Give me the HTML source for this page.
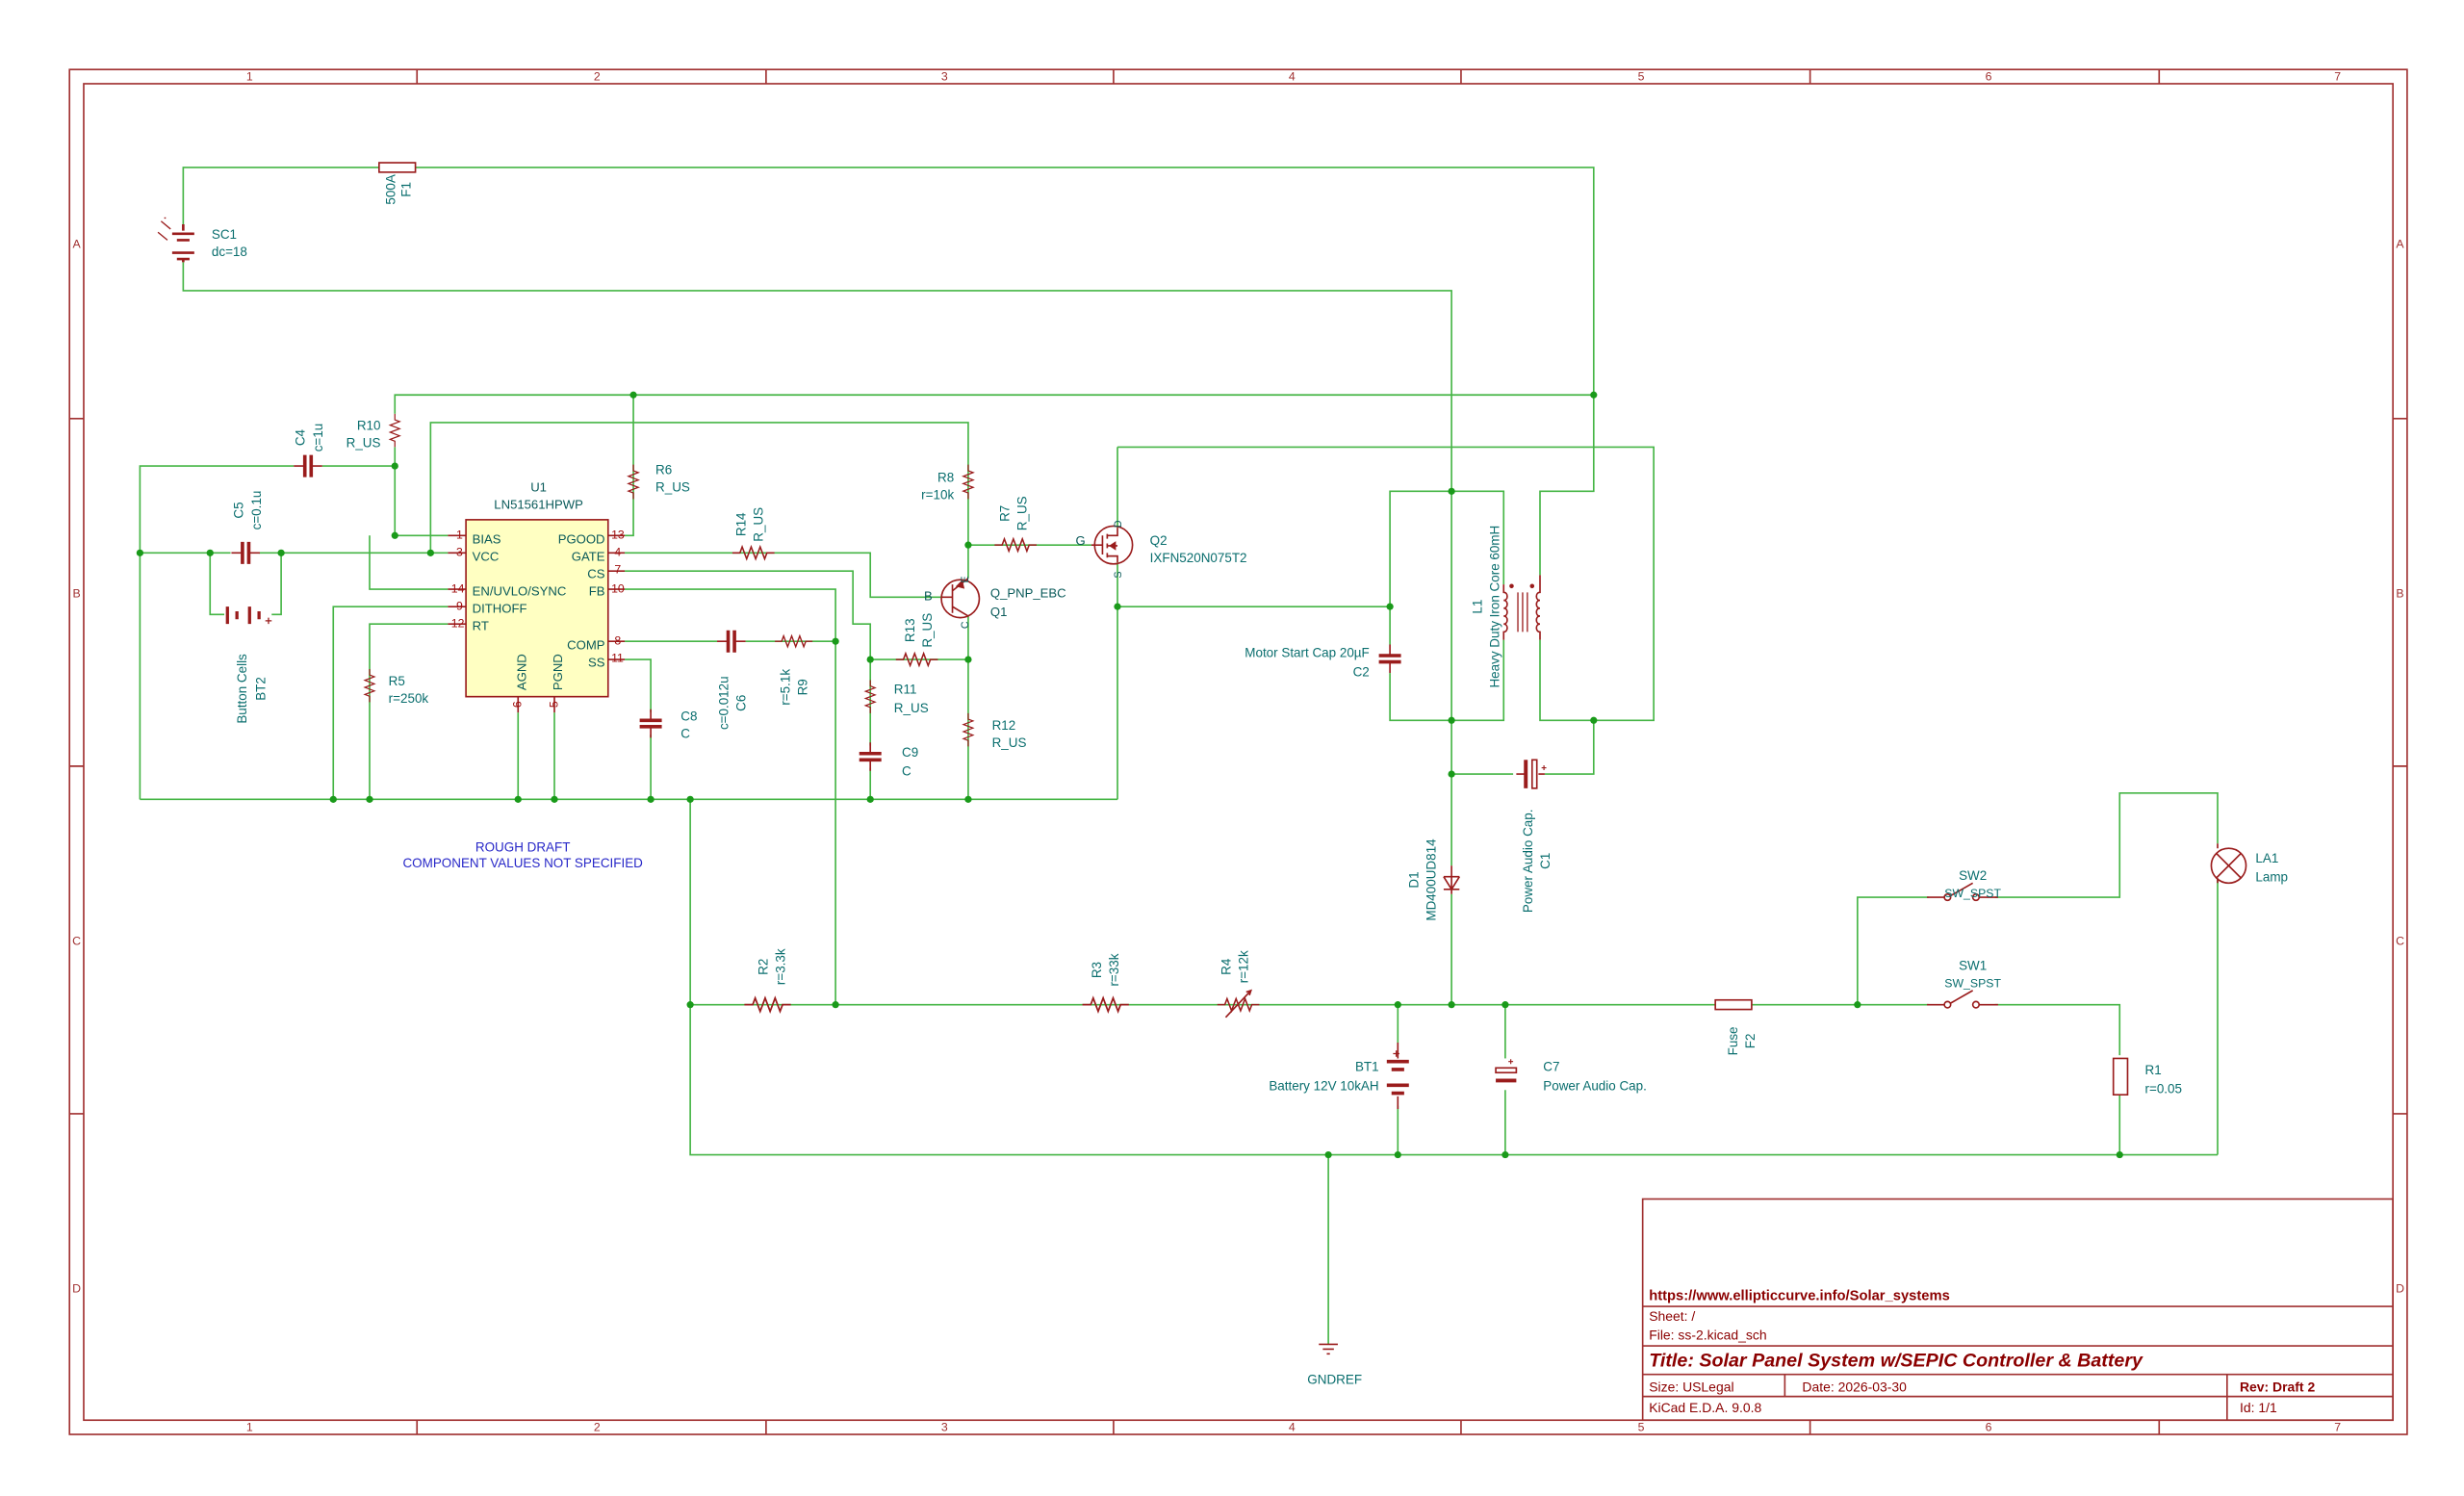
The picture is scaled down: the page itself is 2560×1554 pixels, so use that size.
<!DOCTYPE html>
<html><head><meta charset="utf-8"><style>
html,body{margin:0;padding:0;background:#fff;}
svg{display:block;}
text{font-family:"Liberation Sans",sans-serif;font-size:8.2px;fill:#0a6e6e;}
.p{fill:#a01010;font-size:7.5px;}
.n{fill:#0a5a5a;font-size:8px;}
.tb{fill:#8b0000;}
.fr{fill:#a03030;font-size:7.5px;}
</style></head><body>
<svg width="2560" height="1554" viewBox="0 0 1560 947" preserveAspectRatio="none" xmlns="http://www.w3.org/2000/svg">
<defs>
<path id="rh" d="M-14,0H-9L-7.5,-4L-4.5,4L-1.5,-4L1.5,4L4.5,-4L7.5,4L9,0H14" fill="none"/>
<g id="ch"><path d="M-9,0H-2M2,0H9" stroke-width="1"/><path d="M-2,-7V7M2,-7V7" stroke-width="2.2"/></g>
<g id="cv"><path d="M0,-9V-2M0,2V9" stroke-width="1"/><path d="M-7,-2H7M-7,2H7" stroke-width="2.2"/></g>
</defs>
<rect width="1560" height="947" fill="#fff"/>
<!-- frame -->
<g stroke="#a03030" fill="none" stroke-width="1">
<rect x="44" y="44" width="1480" height="864"/>
<rect x="53" y="53" width="1462" height="846"/>
<path d="M264,44V53M485,44V53M705,44V53M925,44V53M1146,44V53M1367,44V53M264,899V908M485,899V908M705,899V908M925,899V908M1146,899V908M1367,899V908M44,265H53M44,485H53M44,705H53M1515,265H1524M1515,485H1524M1515,705H1524"/>
<rect x="1040" y="759" width="475" height="140"/>
<path d="M1040,827H1515M1040,852H1515M1040,870H1515M1040,884H1515M1130,870V884M1410,870V899"/>
</g>
<g class="fr" text-anchor="middle">
<text class="fr" x="158" y="51">1</text><text class="fr" x="378" y="51">2</text><text class="fr" x="598" y="51">3</text><text class="fr" x="818" y="51">4</text><text class="fr" x="1039" y="51">5</text><text class="fr" x="1259" y="51">6</text><text class="fr" x="1480" y="51">7</text>
<text class="fr" x="158" y="906">1</text><text class="fr" x="378" y="906">2</text><text class="fr" x="598" y="906">3</text><text class="fr" x="818" y="906">4</text><text class="fr" x="1039" y="906">5</text><text class="fr" x="1259" y="906">6</text><text class="fr" x="1480" y="906">7</text>
<text class="fr" x="48.5" y="157">A</text><text class="fr" x="48.5" y="378">B</text><text class="fr" x="48.5" y="598">C</text><text class="fr" x="48.5" y="818">D</text>
<text class="fr" x="1519.5" y="157">A</text><text class="fr" x="1519.5" y="378">B</text><text class="fr" x="1519.5" y="598">C</text><text class="fr" x="1519.5" y="818">D</text>
</g>
<!-- wires -->
<g stroke="#45b545" stroke-width="1" fill="none">
<path d="M116,142V106H1009V311H975V364"/>
<path d="M116,166V184H919V636"/>
<path d="M880,384V311H952V370"/>
<path d="M880,384V456H952V405"/>
<path d="M975,405V456H1047V283H707.5"/>
<path d="M919,490H1009V456"/>
<path d="M250,262V250H1009"/>
<path d="M272.6,350V267.5H613V345"/>
<path d="M250,283V339H283.6"/>
<path d="M88.6,506V295H250"/>
<path d="M234,339V373H283.6"/>
<path d="M88.6,350H283.6"/>
<path d="M133,350V389H178V350"/>
<path d="M283.6,384H211V506"/>
<path d="M283.6,395H234V506"/>
<path d="M395.5,339H401V250"/>
<path d="M395.5,350H551V378H596"/>
<path d="M395.5,361.5H540V395H551V506"/>
<path d="M395.5,373H529V636"/>
<path d="M395.5,406H529"/>
<path d="M395.5,417.5H412V506"/>
<path d="M551,417.5H613"/>
<path d="M613,345V366M613,390V506"/>
<path d="M613,345H691"/>
<path d="M707.5,356V506M707.5,334V283"/>
<path d="M707.5,384H880"/>
<path d="M88.6,506H707.5"/>
<path d="M328,451V506M351,451V506"/>
<path d="M437,506V731H1404"/>
<path d="M437,636H1342V668M1342,691V731"/>
<path d="M1176,636V568H1342V502H1404V534M1404,556V731"/>
<path d="M885,636V731M953,636V731"/>
<path d="M841,731V851"/>
</g>
<!-- junctions -->
<g fill="#1a9a1a">
<circle cx="401" cy="250" r="2.2"/><circle cx="1009" cy="250" r="2.2"/><circle cx="250" cy="295" r="2.2"/><circle cx="250" cy="339" r="2.2"/><circle cx="272.6" cy="350" r="2.2"/><circle cx="133" cy="350" r="2.2"/><circle cx="178" cy="350" r="2.2"/><circle cx="88.6" cy="350" r="2.2"/><circle cx="613" cy="345" r="2.2"/><circle cx="919" cy="311" r="2.2"/><circle cx="880" cy="384" r="2.2"/><circle cx="919" cy="456" r="2.2"/><circle cx="1009" cy="456" r="2.2"/><circle cx="919" cy="490" r="2.2"/><circle cx="529" cy="406" r="2.2"/><circle cx="551" cy="417.5" r="2.2"/><circle cx="613" cy="417.5" r="2.2"/><circle cx="707.5" cy="384" r="2.2"/><circle cx="211" cy="506" r="2.2"/><circle cx="234" cy="506" r="2.2"/><circle cx="328" cy="506" r="2.2"/><circle cx="351" cy="506" r="2.2"/><circle cx="412" cy="506" r="2.2"/><circle cx="437" cy="506" r="2.2"/><circle cx="551" cy="506" r="2.2"/><circle cx="613" cy="506" r="2.2"/><circle cx="437" cy="636" r="2.2"/><circle cx="529" cy="636" r="2.2"/><circle cx="885" cy="636" r="2.2"/><circle cx="919" cy="636" r="2.2"/><circle cx="953" cy="636" r="2.2"/><circle cx="1176" cy="636" r="2.2"/><circle cx="841" cy="731" r="2.2"/><circle cx="885" cy="731" r="2.2"/><circle cx="953" cy="731" r="2.2"/><circle cx="1342" cy="731" r="2.2"/>
</g>
<!-- components -->
<g stroke="#9a1c1c" fill="none" stroke-width="1">
<!-- IC -->
<rect x="295" y="329" width="90" height="112" fill="#ffffc2"/>
<path d="M283.6,339H295M283.6,350H295M283.6,373H295M283.6,384H295M283.6,395H295M385,339H395.5M385,350H395.5M385,361.5H395.5M385,373H395.5M385,406H395.5M385,417.5H395.5M328,441V451M351,441V451"/>
<!-- SC1 -->
<path d="M116,142V146M109,148H123M112,152H120M109,160H123M112,164H120M116,164V166" stroke-width="1.6"/>
<path d="M102,140l6,5M104,138l1,0M100,147l6,5" stroke-width="0.8"/>
<!-- F1 -->
<rect x="240" y="103" width="23" height="6" fill="#fff"/>
<!-- resistors -->
<g fill="#fff"><rect x="244" y="262" width="12" height="21" stroke="none"/></g>
<use href="#rh" transform="translate(250,272.5) rotate(90) scale(0.75)"/>
<use href="#rh" transform="translate(401,305) rotate(90) scale(0.78)"/>
<use href="#rh" transform="translate(613,305) rotate(90) scale(0.78)"/>
<use href="#rh" transform="translate(477,350) scale(0.95)"/>
<use href="#rh" transform="translate(643,345) scale(0.95)"/>
<use href="#rh" transform="translate(580.5,417.5) scale(0.95)"/>
<use href="#rh" transform="translate(502.5,406) scale(0.85)"/>
<use href="#rh" transform="translate(551,441) rotate(90) scale(0.75)"/>
<use href="#rh" transform="translate(613,462) rotate(90) scale(0.75)"/>
<use href="#rh" transform="translate(234,434) rotate(90) scale(0.75)"/>
<use href="#rh" transform="translate(486,636) scale(1.05)"/>
<use href="#rh" transform="translate(700,636) scale(1.05)"/>
<use href="#rh" transform="translate(784,636) scale(0.95)"/>
<path d="M776,644L792,627M789,628l3,-1l-1,3"/>
<!-- caps -->
<g fill="#fff" stroke="none"><rect x="186" y="288" width="18" height="14"/><rect x="146" y="343" width="18" height="14"/><rect x="454" y="399" width="18" height="14"/><rect x="405" y="451" width="18" height="14"/><rect x="544" y="472" width="14" height="14"/><rect x="873" y="408" width="14" height="18"/></g>
<use href="#ch" x="195" y="295"/>
<use href="#ch" x="155.5" y="350"/>
<use href="#ch" x="463" y="406"/>
<use href="#cv" x="412" y="458"/>
<use href="#cv" x="551" y="479"/>
<use href="#cv" x="880" y="417"/>
<!-- BT2 -->
<rect x="142" y="380" width="30" height="18" fill="#fff" stroke="none"/>
<path d="M144,384V395M150,387V392M158,384V395M164,387V392" stroke-width="2"/>
<path d="M168,393h4M170,391v4" stroke-width="0.8"/>
<!-- Q1 -->
<circle cx="608" cy="379" r="12"/>
<path d="M596,378H603M603,370V388M603,374L613,366M603,384L613,390" />
<path d="M606,371l3,-3l1,4z" fill="#9a1c1c"/>
<!-- Q2 -->
<circle cx="705" cy="345" r="12"/>
<path d="M691,345H698M698,339V351M701,338V341M701,344V347M701,350V353M701,339H707.5V334M701,352H707.5V356M701,345.5H707.5" />
<path d="M703,345.5l3,-2v4z" fill="#9a1c1c"/>
<!-- L1 -->
<path d="M952,370V375c3,0,3,5,0,5c3,0,3,5,0,5c3,0,3,5,0,5c3,0,3,5,0,5c3,0,3,5,0,5V405"/>
<path d="M975,364V375c-3,0,-3,5,0,5c-3,0,-3,5,0,5c-3,0,-3,5,0,5c-3,0,-3,5,0,5c-3,0,-3,5,0,5V405"/>
<path d="M961,375V400M964,375V400M967,375V400" stroke-width="0.8"/>
<circle cx="957" cy="371" r="0.9" fill="#9a1c1c"/><circle cx="970" cy="371" r="0.9" fill="#9a1c1c"/>
<!-- C1 -->
<rect x="958" y="482" width="20" height="16" fill="#fff" stroke="none"/>
<path d="M960,490H966M974,490H978"/>
<path d="M966,481V499" stroke-width="2.4"/>
<rect x="970" y="481" width="3" height="18"/>
<path d="M976,486h3M977.5,484.5v3" stroke-width="0.7"/>
<!-- D1 -->
<rect x="914" y="548" width="10" height="18" fill="#fff" stroke="none"/>
<path d="M919,548V566M914,555H924M914,555L919,563L924,555M914,563H924"/>
<!-- F2 -->
<rect x="1086" y="633" width="23" height="6" fill="#fff"/>
<!-- SW -->
<rect x="1221" y="562" width="42" height="10" fill="#fff" stroke="none"/>
<rect x="1221" y="630" width="42" height="10" fill="#fff" stroke="none"/>
<path d="M1220,568H1231M1253,568H1265M1235,567L1249,559M1220,636H1231M1253,636H1265M1235,635L1249,627"/>
<circle cx="1233" cy="568" r="2"/><circle cx="1251" cy="568" r="2"/><circle cx="1233" cy="636" r="2"/><circle cx="1251" cy="636" r="2"/>
<!-- LA1 -->
<circle cx="1411" cy="548" r="11" fill="#fff"/>
<path d="M1403,540L1419,556M1419,540L1403,556"/>
<path d="M1404,534V537M1404,556V559" />
<!-- R1 -->
<rect x="1338" y="670" width="9" height="23" fill="#fff"/>
<!-- BT1 -->
<rect x="875" y="660" width="20" height="40" fill="#fff" stroke="none"/>
<path d="M878,672H892M881,677H889M878,687H892M881,692H889" stroke-width="2.2"/>
<path d="M885,660V670M885,694V702"/>
<path d="M882,667h4M884,665v4" stroke-width="0.8"/>
<!-- C7 -->
<rect x="943" y="670" width="20" height="20" fill="#fff" stroke="none"/>
<rect x="947" y="676" width="13" height="3"/>
<path d="M947,684H960" stroke-width="2.4"/>
<path d="M955,672h3M956.5,670.5v3" stroke-width="0.7"/>
<!-- GND -->
<path d="M835,851H847M837.5,854H844.5M840,857H842"/>
</g>
<!-- labels -->
<text x="134" y="151">SC1</text><text x="134" y="162">dc=18</text>
<text transform="translate(250,120) rotate(-90)" text-anchor="middle">500A</text>
<text transform="translate(260,120) rotate(-90)" text-anchor="middle">F1</text>
<text transform="translate(193,277) rotate(-90)" text-anchor="middle">C4</text>
<text transform="translate(204,277) rotate(-90)" text-anchor="middle">c=1u</text>
<text x="241" y="272" text-anchor="end">R10</text><text x="241" y="283" text-anchor="end">R_US</text>
<text transform="translate(154,323) rotate(-90)" text-anchor="middle">C5</text>
<text transform="translate(165,323) rotate(-90)" text-anchor="middle">c=0.1u</text>
<text transform="translate(156,436) rotate(-90)" text-anchor="middle">Button Cells</text>
<text transform="translate(168,436) rotate(-90)" text-anchor="middle">BT2</text>
<text x="415" y="300">R6</text><text x="415" y="311">R_US</text>
<text x="341" y="311" text-anchor="middle" class="n">U1</text><text x="341" y="322" text-anchor="middle" class="n">LN51561HPWP</text>
<g class="n"><text class="n" x="299" y="344">BIAS</text><text class="n" x="299" y="355">VCC</text><text class="n" x="299" y="377">EN/UVLO/SYNC</text><text class="n" x="299" y="388">DITHOFF</text><text class="n" x="299" y="399">RT</text>
<text class="n" x="383" y="344" text-anchor="end">PGOOD</text><text class="n" x="383" y="355" text-anchor="end">GATE</text><text class="n" x="383" y="366" text-anchor="end">CS</text><text class="n" x="383" y="377" text-anchor="end">FB</text><text class="n" x="383" y="411" text-anchor="end">COMP</text><text class="n" x="383" y="422" text-anchor="end">SS</text>
<text class="n" transform="translate(333,437) rotate(-90)">AGND</text><text class="n" transform="translate(356,437) rotate(-90)">PGND</text></g>
<g class="p"><text class="p" x="293" y="341" text-anchor="end">1</text><text class="p" x="293" y="352" text-anchor="end">3</text><text class="p" x="294" y="375" text-anchor="end">14</text><text class="p" x="293" y="386" text-anchor="end">9</text><text class="p" x="294" y="397" text-anchor="end">12</text>
<text class="p" x="387" y="341">13</text><text class="p" x="389" y="352">4</text><text class="p" x="389" y="363">7</text><text class="p" x="387" y="375">10</text><text class="p" x="389" y="408">8</text><text class="p" x="387" y="419">11</text>
<text class="p" transform="translate(330,448) rotate(-90)">6</text><text class="p" transform="translate(353,448) rotate(-90)">5</text></g>
<text transform="translate(472,332) rotate(-90)" text-anchor="middle">R14</text>
<text transform="translate(483,332) rotate(-90)" text-anchor="middle">R_US</text>
<text x="604" y="305" text-anchor="end">R8</text><text x="604" y="316" text-anchor="end">r=10k</text>
<text transform="translate(639,325) rotate(-90)" text-anchor="middle">R7</text>
<text transform="translate(650,325) rotate(-90)" text-anchor="middle">R_US</text>
<text x="681" y="345" class="n">G</text><text transform="translate(710,334) rotate(-90)" class="n" style="font-size:6.5px">D</text><text transform="translate(710,366) rotate(-90)" class="n" style="font-size:6.5px">S</text>
<text x="728" y="345">Q2</text><text x="728" y="356">IXFN520N075T2</text>
<text x="585" y="380" class="n">B</text><text transform="translate(613,369) rotate(-90)" class="n" style="font-size:6.5px">E</text><text transform="translate(613,398) rotate(-90)" class="n" style="font-size:6.5px">C</text>
<text x="627" y="378" class="n">Q_PNP_EBC</text><text x="627" y="390" class="n">Q1</text>
<text transform="translate(579,399) rotate(-90)" text-anchor="middle">R13</text>
<text transform="translate(590,399) rotate(-90)" text-anchor="middle">R_US</text>
<text x="566" y="439">R11</text><text x="566" y="451">R_US</text>
<text x="628" y="462">R12</text><text x="628" y="473">R_US</text>
<text x="571" y="479">C9</text><text x="571" y="491">C</text>
<text x="431" y="456">C8</text><text x="431" y="467">C</text>
<text transform="translate(461,445) rotate(-90)" text-anchor="middle">c=0.012u</text>
<text transform="translate(472,445) rotate(-90)" text-anchor="middle">C6</text>
<text transform="translate(500,435) rotate(-90)" text-anchor="middle">r=5.1k</text>
<text transform="translate(511,435) rotate(-90)" text-anchor="middle">R9</text>
<text x="246" y="434">R5</text><text x="246" y="445">r=250k</text>
<text x="867" y="416" text-anchor="end">Motor Start Cap 20µF</text><text x="867" y="428" text-anchor="end">C2</text>
<text transform="translate(938,384) rotate(-90)" text-anchor="middle">L1</text>
<text transform="translate(949,384) rotate(-90)" text-anchor="middle">Heavy Duty Iron Core 60mH</text>
<text transform="translate(970,545) rotate(-90)" text-anchor="middle">Power Audio Cap.</text>
<text transform="translate(981,545) rotate(-90)" text-anchor="middle">C1</text>
<text transform="translate(898,557) rotate(-90)" text-anchor="middle">D1</text>
<text transform="translate(909,557) rotate(-90)" text-anchor="middle">MD400UD814</text>
<text x="331" y="539" text-anchor="middle" style="fill:#2828c8">ROUGH DRAFT</text>
<text x="331" y="549" text-anchor="middle" style="fill:#2828c8">COMPONENT VALUES NOT SPECIFIED</text>
<text transform="translate(486,612) rotate(-90)" text-anchor="middle">R2</text>
<text transform="translate(497,612) rotate(-90)" text-anchor="middle">r=3.3k</text>
<text transform="translate(697,614) rotate(-90)" text-anchor="middle">R3</text>
<text transform="translate(708,614) rotate(-90)" text-anchor="middle">r=33k</text>
<text transform="translate(779,612) rotate(-90)" text-anchor="middle">R4</text>
<text transform="translate(790,612) rotate(-90)" text-anchor="middle">r=12k</text>
<text transform="translate(1100,659) rotate(-90)" text-anchor="middle">Fuse</text>
<text transform="translate(1111,659) rotate(-90)" text-anchor="middle">F2</text>
<text x="1249" y="557" text-anchor="middle">SW2</text><text x="1249" y="568" text-anchor="middle" style="font-size:7.5px">SW_SPST</text>
<text x="1249" y="614" text-anchor="middle">SW1</text><text x="1249" y="625" text-anchor="middle" style="font-size:7.5px">SW_SPST</text>
<text x="1428" y="546">LA1</text><text x="1428" y="558">Lamp</text>
<text x="1358" y="680">R1</text><text x="1358" y="692">r=0.05</text>
<text x="873" y="678" text-anchor="end">BT1</text><text x="873" y="690" text-anchor="end">Battery 12V 10kAH</text>
<text x="977" y="678">C7</text><text x="977" y="690">Power Audio Cap.</text>
<text x="845" y="876" text-anchor="middle">GNDREF</text>
<!-- title block -->
<text class="tb" x="1044" y="823" style="font-weight:bold;font-size:9px">https://www.ellipticcurve.info/Solar_systems</text>
<text class="tb" x="1044" y="836" style="font-size:8.5px">Sheet: /</text>
<text class="tb" x="1044" y="848" style="font-size:8.5px">File: ss-2.kicad_sch</text>
<text class="tb" x="1044" y="865" style="font-weight:bold;font-style:italic;font-size:12px">Title: Solar Panel System w/SEPIC Controller &amp; Battery</text>
<text class="tb" x="1044" y="881" style="font-size:8.5px">Size: USLegal</text>
<text class="tb" x="1141" y="881" style="font-size:8.5px">Date: 2026-03-30</text>
<text class="tb" x="1418" y="881" style="font-weight:bold;font-size:8.5px">Rev: Draft 2</text>
<text class="tb" x="1044" y="894" style="font-size:8.5px">KiCad E.D.A. 9.0.8</text>
<text class="tb" x="1418" y="894" style="font-size:8.5px">Id: 1/1</text>
</svg>
</body></html>
